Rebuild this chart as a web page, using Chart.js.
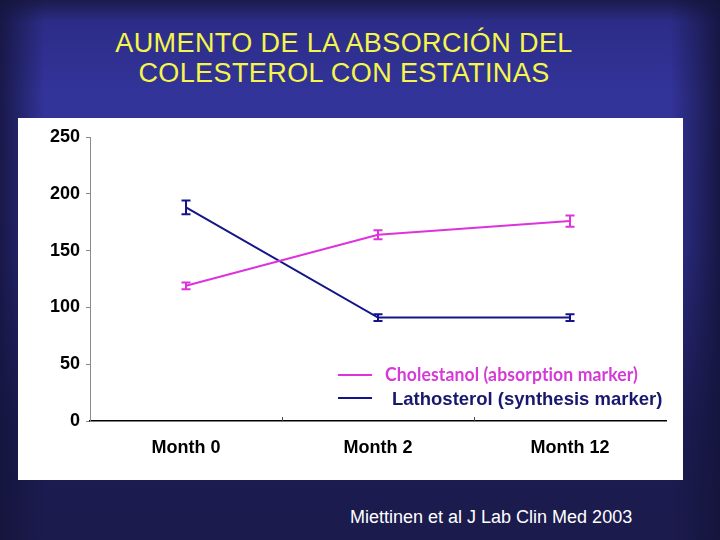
<!DOCTYPE html>
<html>
<head>
<meta charset="utf-8">
<script src="https://cdn.jsdelivr.net/npm/chart.js@4.4.1/dist/chart.umd.min.js"></script>
<style>
  html, body { margin:0; padding:0; }
  body {
    width:720px; height:540px; position:relative; overflow:hidden;
    background:
      linear-gradient(to right, rgba(20,20,60,0.85) 0px, rgba(20,20,60,0) 45px, rgba(20,20,60,0) 670px, rgba(20,20,60,0.9) 720px),
      linear-gradient(to bottom, #1b1b4c 0px, #2c2c88 22px, #33349a 95px, #2f3090 250px, #1e1d58 420px, #1c1b4f 490px, #1c1b4d 540px);
    font-family: 'Liberation Sans', Arial, sans-serif;
  }
  .title {
    position:absolute; left:0; width:688px; text-align:center;
    color:#f6f64a; font-size:27px; letter-spacing:0.4px; line-height:30px;
  }
  #panel { position:absolute; left:18px; top:118px; width:665px; height:362px; background:#ffffff; }
  #cite { position:absolute; left:350px; top:505px; color:#ffffff; font-size:18px; line-height:24px; white-space:nowrap; }
</style>
</head>
<body>
<div class="title" style="top:28px;">AUMENTO DE LA ABSORCIÓN DEL</div>
<div class="title" style="top:58px;">COLESTEROL CON ESTATINAS</div>
<div id="panel"><canvas id="c" width="665" height="362"></canvas></div>
<div id="cite">Miettinen et al J Lab Clin Med 2003</div>
<script>
const categories = ['Month 0', 'Month 2', 'Month 12'];
const cholestanol = [119, 164, 176];
const cholestanolErr = [3, 4, 5];
const lathosterol = [188, 91, 91];
const lathosterolErr = [6, 3, 3];
const yTicks = [0, 50, 100, 150, 200, 250];
const legendLabels = ['Cholestanol (absorption marker)', 'Lathosterol (synthesis marker)'];

const pink = '#dd33dd';
const navy = '#14148a';

const errorBars = {
  id: 'errorBars',
  afterDatasetsDraw(chart) {
    const ctx = chart.ctx;
    const y = chart.scales.y;
    chart.data.datasets.forEach((ds, di) => {
      const meta = chart.getDatasetMeta(di);
      ds.errors.forEach((e, i) => {
        const px = meta.data[i].x;
        const v = ds.data[i];
        const top = y.getPixelForValue(v + e);
        const bot = y.getPixelForValue(v - e);
        ctx.save();
        ctx.strokeStyle = ds.borderColor;
        ctx.lineWidth = 2;
        ctx.beginPath();
        ctx.moveTo(px, top); ctx.lineTo(px, bot);
        ctx.moveTo(px - 4.5, top); ctx.lineTo(px + 4.5, top);
        ctx.moveTo(px - 4.5, bot); ctx.lineTo(px + 4.5, bot);
        ctx.stroke();
        ctx.restore();
      });
    });
  }
};

const extras = {
  id: 'extras',
  afterDraw(chart) {
    const ctx = chart.ctx;
    const a = chart.chartArea;
    const x = chart.scales.x;
    ctx.save();
    ctx.strokeStyle = '#444';
    ctx.lineWidth = 1;
    ctx.beginPath();
    for (let i = 0; i < categories.length - 1; i++) {
      const bx = (x.getPixelForValue(i) + x.getPixelForValue(i + 1)) / 2;
      ctx.moveTo(Math.round(bx) + 0.5, a.bottom);
      ctx.lineTo(Math.round(bx) + 0.5, a.bottom - 4);
    }
    ctx.stroke();
    const lx = a.left + 248;
    const ly1 = a.top + 238;
    const ly2 = a.top + 261;
    ctx.lineWidth = 2;
    ctx.strokeStyle = pink;
    ctx.beginPath(); ctx.moveTo(lx, ly1); ctx.lineTo(lx + 34, ly1); ctx.stroke();
    ctx.strokeStyle = navy;
    ctx.beginPath(); ctx.moveTo(lx, ly2); ctx.lineTo(lx + 34, ly2); ctx.stroke();
    ctx.textAlign = 'left';
    ctx.textBaseline = 'alphabetic';
    ctx.fillStyle = '#d63ad6';
    ctx.font = 'bold 18px Lato, "Open Sans", sans-serif';
    try { ctx.letterSpacing = '0.1px'; } catch (e) {}
    ctx.fillText(legendLabels[0], lx + 47, ly1 + 6, 253);
    try { ctx.letterSpacing = '0px'; } catch (e) {}
    ctx.fillStyle = '#18186e';
    ctx.font = 'bold 18.5px "Liberation Sans", Arial, sans-serif';
    ctx.fillText(legendLabels[1], lx + 54, ly2 + 7, 273);
    ctx.restore();
  }
};

new Chart(document.getElementById('c'), {
  type: 'line',
  data: {
    labels: categories,
    datasets: [
      { label: legendLabels[0], data: cholestanol, errors: cholestanolErr, borderColor: pink, backgroundColor: pink, borderWidth: 2, pointRadius: 0, tension: 0 },
      { label: legendLabels[1], data: lathosterol, errors: lathosterolErr, borderColor: navy, backgroundColor: navy, borderWidth: 2, pointRadius: 0, tension: 0 }
    ]
  },
  options: {
    responsive: false,
    animation: false,
    events: [],
    layout: { padding: { left: 0, right: 17, top: 19, bottom: 0 } },
    plugins: { legend: { display: false }, tooltip: { enabled: false }, title: { display: false } },
    scales: {
      x: {
        offset: true,
        grid: { display: true, drawOnChartArea: false, drawTicks: false, color: 'rgba(0,0,0,0)' },
        border: { display: true, color: '#000000', width: 1.5 },
        ticks: { color: '#000', padding: 16, font: { family: '"Liberation Sans", Arial, sans-serif', size: 18, weight: 'bold' } },
        afterFit(s) { s.height = 59; s.paddingLeft = 0; s.paddingRight = 0; }
      },
      y: {
        min: 0, max: 250,
        afterBuildTicks(s) { s.ticks = yTicks.map(v => ({ value: v })); },
        grid: { display: true, drawOnChartArea: false, drawTicks: true, tickLength: 4, color: '#8a8a8a' },
        border: { display: true, color: '#8a8a8a', width: 1 },
        ticks: { color: '#000', padding: 6, font: { family: '"Liberation Sans", Arial, sans-serif', size: 18, weight: 'bold' } },
        afterFit(s) { s.width = 72; s.paddingTop = 0; s.paddingBottom = 0; }
      }
    }
  },
  plugins: [errorBars, extras]
});
</script>
</body>
</html>
